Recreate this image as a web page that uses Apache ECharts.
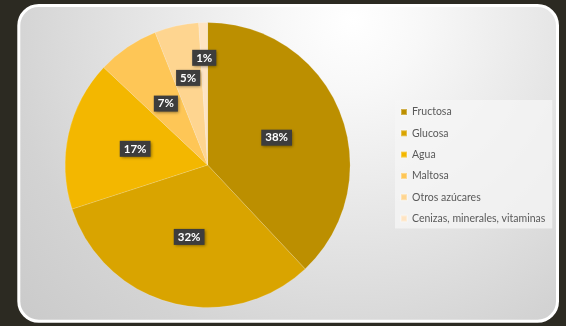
<!DOCTYPE html>
<html>
<head>
<meta charset="utf-8">
<script src="https://cdn.jsdelivr.net/npm/echarts@6/dist/echarts.min.js"></script>
<style>
html,body{margin:0;padding:0;background:#2c2a22;}
#c{width:566px;height:326px;}
</style>
</head>
<body>
<div id="c"></div>
<script>
// Data
const categories = ['Fructosa', 'Glucosa', 'Agua', 'Maltosa', 'Otros azúcares', 'Cenizas, minerales, vitaminas'];
const values = [38, 32, 17, 7, 5, 1];
const labels = ['38%', '32%', '17%', '7%', '5%', '1%'];

// Styles
const colors = ['#BC8F00', '#D9A400', '#F3B700', '#FEC656', '#FED590', '#FEE4C3'];
const labelShift = [0, 0, 0, 0, 15, 33];

const total = values.reduce((a, b) => a + b, 0);
const midAngles = [];
let acc = 0;
values.forEach(v => {
  const start = 90 - acc / total * 360;
  const mid = start - v / total * 180;
  midAngles.push(mid * Math.PI / 180);
  acc += v;
});

const chart = echarts.init(document.getElementById('c'), null, {renderer: 'canvas'});
chart.setOption({
  backgroundColor: '#2c2a22',
  animation: false,
  graphic: [{
    type: 'rect',
    z: 0,
    shape: {x: 18.8, y: 5.5, width: 538.7, height: 315.7, r: 20},
    style: {
      fill: {
        type: 'radial', x: 352, y: 20, r: 460, global: true,
        colorStops: [
          {offset: 0, color: '#ffffff'},
          {offset: 0.15, color: '#f8f8f8'},
          {offset: 0.75, color: '#d3d3d3'},
          {offset: 1, color: '#c9c9c9'}
        ]
      },
      stroke: '#ffffff',
      lineWidth: 3
    }
  }],
  legend: {
    orient: 'vertical',
    left: 395,
    top: 100,
    padding: [6, 7, 4, 5],
    backgroundColor: 'rgba(245,245,245,0.75)',
    itemWidth: 6,
    itemHeight: 6,
    itemGap: 9.3,
    icon: 'rect',
    data: categories,
    textStyle: {fontFamily: 'Lato', fontSize: 10.5, color: '#595959', lineHeight: 12}
  },
  series: [{
    type: 'pie',
    center: [207.6, 165],
    radius: 142.5,
    startAngle: 90,
    clockwise: true,
    avoidLabelOverlap: false,
    color: colors,
    itemStyle: {borderColor: 'rgba(255,255,255,0.3)', borderWidth: 0.5},
    label: {
      show: true,
      position: 'inside',
      formatter: p => labels[p.dataIndex],
      fontFamily: 'Lato',
      fontWeight: 'bold',
      fontSize: 11.5,
      color: '#ffffff',
      backgroundColor: '#3d3d3d',
      padding: [2, 4, 1, 4],
      lineHeight: 13,
      shadowColor: 'rgba(0,0,0,0.45)',
      shadowBlur: 3,
      shadowOffsetX: 1,
      shadowOffsetY: 1
    },
    labelLine: {show: false},
    labelLayout: function (p) {
      const k = labelShift[p.dataIndex];
      if (!k) return {};
      const a = midAngles[p.dataIndex];
      return {dx: k * Math.cos(a), dy: -k * Math.sin(a)};
    },
    emphasis: {disabled: true},
    data: categories.map((n, i) => ({name: n, value: values[i]}))
  }]
});
</script>
</body>
</html>
